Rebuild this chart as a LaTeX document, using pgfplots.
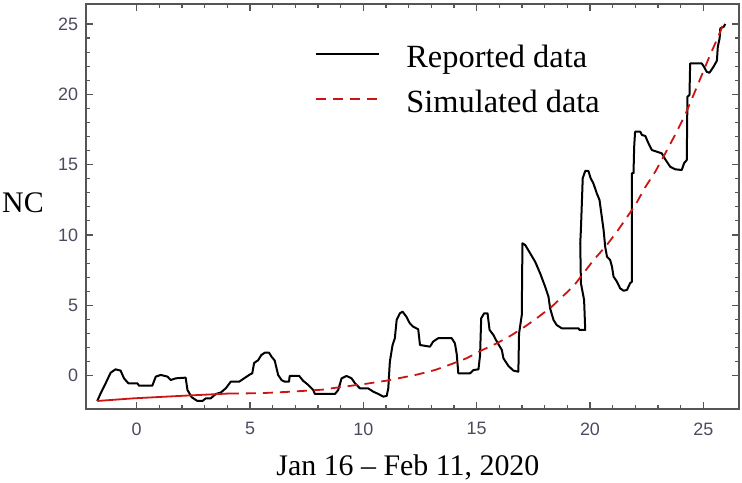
\documentclass[border=0pt]{standalone}
\usepackage{fontspec}
\setmainfont{Liberation Serif}
\newfontfamily\tickfont{Liberation Sans}
\usepackage{pgfplots}
\pgfplotsset{compat=1.18}

\definecolor{framegray}{RGB}{85,85,85}
\definecolor{ticklab}{RGB}{75,75,95}
\definecolor{simred}{RGB}{204,20,20}

\begin{document}
\begin{tikzpicture}
\begin{axis}[
    name=ax,
    scale only axis,
    width=653bp, height=405bp,
    xmin=-2.237, xmax=26.575,
    ymin=-2.37, ymax=26.42,
    xtick={0,5,...,25}, ytick={0,5,...,25},
    minor tick num=4,
    tick align=inside,
    xtick pos=both, ytick pos=both,
    major tick length=7bp, minor tick length=4.5bp,
    axis line style={draw=framegray, line width=1.6bp},
    every tick/.style={framegray, line width=1.1bp},
    /pgf/number format/assume math mode=true,
    tick label style={font=\tickfont\fontsize{18}{18}\selectfont, text=ticklab, inner sep=0pt},
    xticklabel style={anchor=north, yshift=-13.3bp},
    yticklabel style={anchor=east, xshift=-7.7bp},
    label style={font=\fontsize{30}{30}\selectfont},
    xlabel={Jan 16 -- Feb 11, 2020},
    ylabel={NC},
    xlabel style={at={(axis description cs:0.493,-0.163)}, anchor=base},
    ylabel style={at={(axis description cs:-0.0965,0.51)}, anchor=center, rotate=-90},
    legend style={draw=none, fill=none, at={(axis description cs:0.351,0.9)},
        anchor=north west, inner sep=0pt, row sep=21bp, column sep=26bp,
        font=\fontsize{32.5}{32.5}\selectfont, nodes={inner sep=0pt}},
    legend cell align=left,
    legend image code/.code={\draw[#1] (0bp,3bp) -- (63bp,3bp);},
]

% reported data
\addplot[black, line width=2bp, line join=round] coordinates {
(-1.74,-1.8) (-1.59,-1.25) (-1.37,-0.54) (-1.15,0.21) (-0.93,0.45) (-0.71,0.36)
(-0.56,-0.19) (-0.37,-0.54) (0.03,-0.54) (0.1,-0.71) (0.69,-0.71) (0.84,-0.07)
(1.06,0.05) (1.36,-0.07) (1.5,-0.31) (1.72,-0.19) (2.16,-0.14) (2.24,-1.02)
(2.43,-1.54) (2.68,-1.8) (2.9,-1.8) (3.05,-1.61) (3.27,-1.61) (3.49,-1.3)
(3.71,-1.2) (3.93,-0.9) (4.15,-0.43) (4.52,-0.43) (4.74,-0.19) (4.96,0.05)
(5.1,0.17) (5.18,0.9) (5.36,1.1) (5.5,1.47) (5.65,1.63) (5.84,1.63)
(5.95,1.35) (6.09,1.07) (6.24,0.05) (6.39,-0.31) (6.53,-0.43) (6.72,-0.43)
(6.75,-0.02) (7.17,-0.02) (7.34,-0.36) (7.57,-0.66) (7.79,-1.02) (7.86,-1.3)
(8.75,-1.3) (8.89,-1.02) (9.04,-0.19) (9.26,-0.02) (9.48,-0.19) (9.63,-0.54)
(9.85,-0.9) (10.21,-0.9) (10.44,-1.14) (10.66,-1.3) (10.88,-1.49) (11.03,-1.44)
(11.1,-0.9) (11.17,1.0) (11.29,2.18) (11.39,2.66) (11.47,3.96) (11.61,4.43)
(11.73,4.55) (11.9,4.19) (12.05,3.72) (12.2,3.48) (12.42,3.3) (12.5,2.18)
(12.94,2.06) (13.08,2.42) (13.3,2.66) (13.9,2.66) (14.04,2.3) (14.12,1.54)
(14.19,0.17) (14.71,0.17) (14.86,0.4) (15.08,0.45) (15.15,1.47) (15.2,4.08)
(15.33,4.43) (15.48,4.43) (15.57,3.25) (15.74,2.89) (15.89,2.42) (16.11,1.83)
(16.18,1.24) (16.4,0.69) (16.62,0.36) (16.84,0.28) (16.87,3.0) (16.99,4.3)
(17.02,9.41) (17.14,9.29) (17.36,8.7) (17.58,8.1) (17.8,7.28) (18.02,6.33)
(18.17,5.6) (18.24,4.79) (18.39,3.96) (18.53,3.6) (18.75,3.37) (19.49,3.37)
(19.54,3.25) (19.79,3.25) (19.74,5.38) (19.6,6.57) (19.57,9.41) (19.6,10.4)
(19.68,14.03) (19.79,14.55) (19.93,14.55) (20.03,14.03) (20.15,13.67) (20.3,12.96)
(20.42,12.49) (20.52,11.3) (20.6,10.36) (20.67,9.17) (20.75,8.46) (20.89,8.22)
(20.97,7.75) (21.04,7.04) (21.19,6.68) (21.33,6.21) (21.48,6.04) (21.63,6.09)
(21.77,6.57) (21.85,6.68) (21.85,14.39) (21.92,14.39) (21.95,16.28) (21.99,17.34)
(22.22,17.34) (22.29,17.11) (22.44,17.04) (22.58,16.52) (22.73,16.04) (22.95,15.92)
(23.17,15.8) (23.32,15.38) (23.54,14.85) (23.76,14.67) (24.05,14.62) (24.15,15.1)
(24.27,15.33) (24.3,19.83) (24.39,19.95) (24.42,22.2) (24.93,22.2) (25.03,21.96)
(25.15,21.6) (25.27,21.53) (25.45,21.96) (25.6,22.39) (25.64,23.38) (25.72,23.98)
(25.75,24.69) (25.9,24.8) (25.97,25.0)
};
\addlegendentry{Reported data}

% simulated data, drawn solid at its start as in the source
\addplot[simred, line width=1.8bp, forget plot] coordinates {
(-1.74,-1.8) (-0.12,-1.61) (2.16,-1.42) (4.07,-1.27)
};
\addplot[simred, line width=1.8bp, dash pattern=on 10bp off 7bp] coordinates {
(4.07,-1.27) (5.43,-1.25) (6.8,-1.14) (8.17,-1.0) (9.05,-0.8) (10.03,-0.6)
(11.0,-0.36) (11.7,-0.14) (12.38,0.08) (13.16,0.4) (13.9,0.83) (14.56,1.24)
(15.22,1.8) (15.89,2.3) (16.55,2.89) (17.14,3.5) (17.65,4.08) (18.31,4.9)
(18.97,5.9) (19.34,6.5) (20.15,8.2) (20.75,9.3) (21.26,10.4) (21.99,12.1)
(22.44,13.4) (22.88,14.5) (23.22,15.5) (23.75,17.1) (24.19,18.5) (24.71,20.5)
(25.3,22.8) (25.66,24.1) (25.88,25.0)
};
\addlegendentry{Simulated data}
\end{axis}
\pgfresetboundingbox
\path[use as bounding box] ([shift={(-86bp,-74bp)}]ax.south west) rectangle ([shift={(3bp,4bp)}]ax.north east);
\end{tikzpicture}
\end{document}
